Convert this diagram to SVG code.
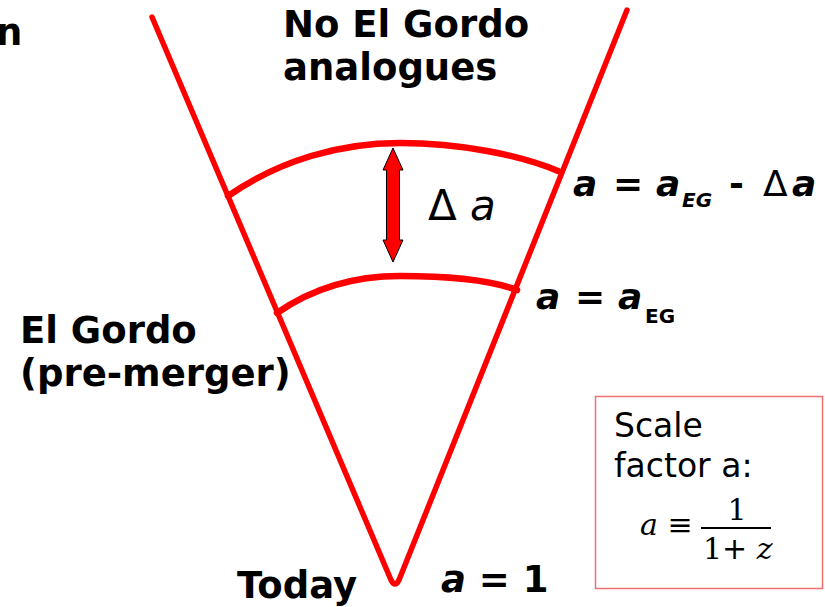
<svg xmlns="http://www.w3.org/2000/svg" width="825" height="607" viewBox="0 0 825 607">
<style>
.b{font-family:"DejaVu Sans",Verdana,sans-serif;font-weight:bold;fill:#000}
.r{font-family:"DejaVu Sans",Verdana,sans-serif;fill:#000}
.m{font-family:"DejaVu Serif","Liberation Serif",serif;fill:#000}
.red{fill:none;stroke:#f00;stroke-width:5.5;stroke-linecap:round;stroke-linejoin:round}
</style>
<rect width="825" height="607" fill="#fff"/>
<g id="connectors">
<path class="red" d="M152,17 L391,580 Q395,588 399,580 L627,10"/>
<path class="red" d="M228,196 C280,160 340,143 400,143 C460,143 520,155 558,171" style="stroke-width:6.5"/>
<path class="red" d="M277,313 C310,290 350,276 400,276 C450,276 490,280 517,290" style="stroke-width:6.5"/>
<path d="M393,148 L403,170 L399.5,170 L399.5,240 L403,240 L393,262 L383,240 L386.5,240 L386.5,170 L383,170 Z" fill="#f00" stroke="#000" stroke-width="1"/>
</g>
<g id="labels">
<text class="b" x="-4" y="45" font-size="37">n</text>
<text class="b" x="283" y="37" font-size="37">No El Gordo</text>
<text class="b" x="283" y="80" font-size="37">analogues</text>
<text class="b" x="20" y="343" font-size="37">El Gordo</text>
<text class="b" x="20" y="386" font-size="37">(pre-merger)</text>
<text class="b" x="237" y="598" font-size="37">Today</text>
<text class="b" x="441" y="592" font-size="37"><tspan font-style="italic">a</tspan> = 1</text>
<text class="r" x="428" y="220" font-size="42">Δ <tspan font-style="italic">a</tspan></text>
<text class="b" y="196" font-size="36"><tspan x="573" font-style="italic">a</tspan><tspan x="613">=</tspan><tspan x="656" font-style="italic">a</tspan><tspan x="682" y="207" font-style="italic" font-size="20">EG</tspan><tspan x="729" y="196">-</tspan><tspan x="763" font-weight="normal">Δ</tspan><tspan x="792" font-style="italic">a</tspan></text>
<text class="b" y="309" font-size="36"><tspan x="536" font-style="italic">a</tspan><tspan x="575">=</tspan><tspan x="618" font-style="italic">a</tspan><tspan x="645" y="323" font-size="20">EG</tspan></text>
</g>
<g id="scale-box">
<rect x="595.5" y="396.5" width="227" height="192" fill="#fff" stroke="#f07070" stroke-width="1.5"/>
<text class="r" x="614" y="437" font-size="33">Scale</text>
<text class="r" x="614" y="477" font-size="33">factor a:</text>
<text class="m" x="640" y="535" font-size="30"><tspan font-style="italic">a</tspan> ≡</text>
<text class="m" x="737" y="520" font-size="30" text-anchor="middle">1</text>
<line x1="701" y1="528" x2="771" y2="528" stroke="#000" stroke-width="2"/>
<text class="m" x="703" y="559" font-size="30">1<tspan font-family="DejaVu Sans">+</tspan> <tspan font-style="italic">z</tspan></text>
</g>
</svg>
